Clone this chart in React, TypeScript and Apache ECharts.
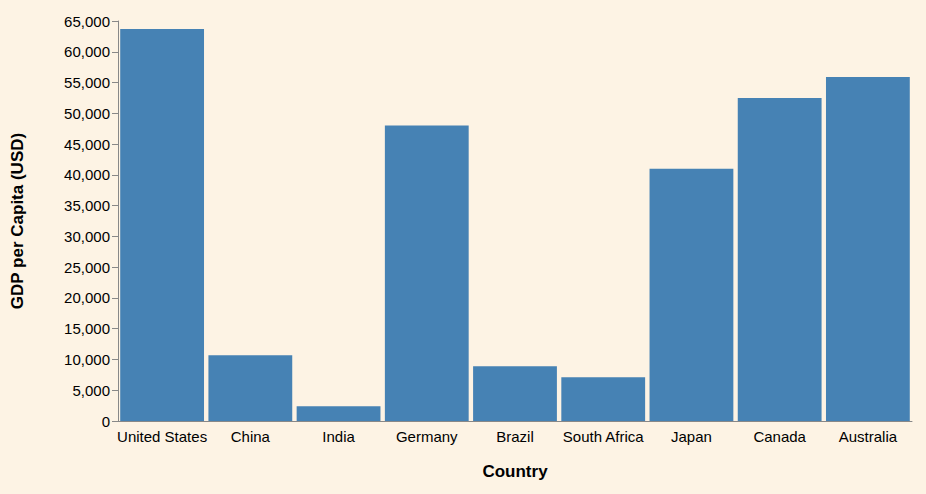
import React, { useEffect, useRef } from "react";
import * as echarts from "echarts";

const countries = ["United States", "China", "India", "Germany", "Brazil", "South Africa", "Japan", "Canada", "Australia"];
const gdp = [63700, 10700, 2400, 48000, 8900, 7100, 41000, 52500, 55900];

export default function App() {
  const ref = useRef<HTMLDivElement>(null);
  useEffect(() => {
    const chart = echarts.init(ref.current!, null, { renderer: "svg" });
    const font = "Liberation Sans, Arial, sans-serif";
    chart.setOption({
      animation: false,
      backgroundColor: "#fdf3e4",
      grid: { left: 118, right: 14, top: 21, bottom: 73 },
      xAxis: {
        type: "category",
        data: countries,
        name: "Country",
        nameLocation: "middle",
        nameGap: 42,
        nameTextStyle: { fontFamily: font, fontWeight: "bold", fontSize: 17, color: "#000" },
        axisLine: { lineStyle: { color: "#888" } },
        axisTick: { alignWithLabel: true, length: 6, lineStyle: { color: "#888" } },
        axisLabel: { fontFamily: font, fontSize: 15, color: "#000", margin: 8, interval: 0 },
      },
      yAxis: {
        type: "value",
        min: 0,
        max: 65000,
        interval: 5000,
        name: "GDP per Capita (USD)",
        nameLocation: "middle",
        nameGap: 92,
        nameTextStyle: { fontFamily: font, fontWeight: "bold", fontSize: 17, color: "#000" },
        axisLine: { show: true, lineStyle: { color: "#888" } },
        axisTick: { show: true, length: 6, lineStyle: { color: "#888" } },
        splitLine: { show: false },
        axisLabel: {
          fontFamily: font, fontSize: 15, color: "#000", margin: 8,
          formatter: (v: number) => v.toLocaleString("en-US"),
        },
      },
      series: [{
        type: "bar",
        data: gdp,
        barCategoryGap: "5%",
        itemStyle: { color: "#4682b4" },
      }],
    });
    return () => chart.dispose();
  }, []);
  return <div ref={ref} style={{ width: 926, height: 494, position: "absolute", left: 0, top: 0 }} />;
}
